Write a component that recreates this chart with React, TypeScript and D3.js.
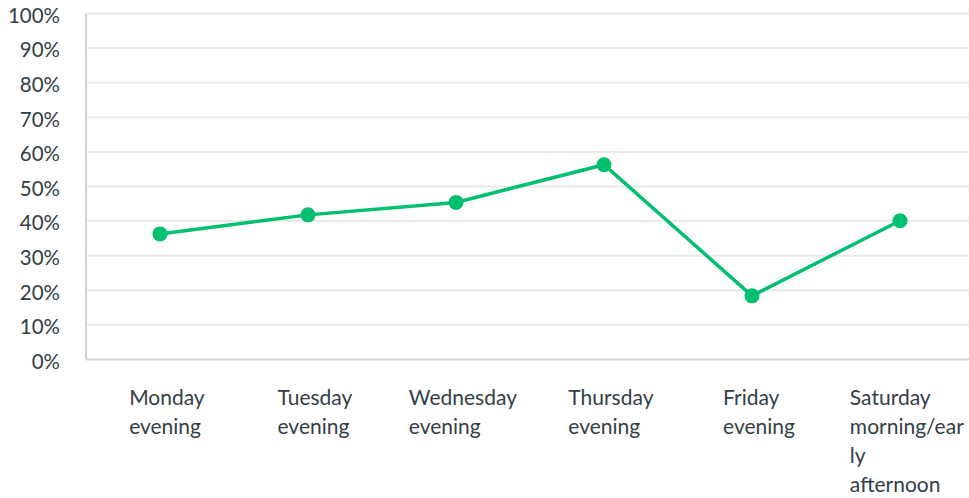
import React, { useEffect, useRef } from "react";
import * as d3 from "d3";

const categories: string[][] = [
  ["Monday", "evening"],
  ["Tuesday", "evening"],
  ["Wednesday", "evening"],
  ["Thursday", "evening"],
  ["Friday", "evening"],
  ["Saturday", "morning/ear", "ly", "afternoon"],
];
const values: number[] = [36.3, 41.8, 45.4, 56.3, 18.4, 40.1];
const yTicks: number[] = [0, 10, 20, 30, 40, 50, 60, 70, 80, 90, 100];

const W = 969;
const H = 498;
const FONT = "Lato, 'Open Sans', sans-serif";
const TEXT = "#333e48";
const GREEN = "#00bf6f";

export default function App() {
  const ref = useRef<SVGSVGElement | null>(null);
  useEffect(() => {
    const svg = d3.select(ref.current);
    svg.selectAll("*").remove();
    const x = d3.scaleBand<number>().domain(d3.range(categories.length)).range([86, 974]);
    const y = d3.scaleLinear().domain([0, 100]).range([359.5, 13.5]);

    // gridlines
    svg
      .append("g")
      .selectAll("line")
      .data(yTicks.filter((t) => t > 0))
      .join("line")
      .attr("x1", 86)
      .attr("x2", W)
      .attr("y1", (d) => y(d))
      .attr("y2", (d) => y(d))
      .attr("stroke", "#e9e9e9")
      .attr("stroke-width", 2);

    // axis lines
    svg.append("line").attr("x1", 86).attr("x2", 86).attr("y1", y(100)).attr("y2", y(0)).attr("stroke", "#d3d3d3").attr("stroke-width", 2);
    svg.append("line").attr("x1", 86).attr("x2", W).attr("y1", y(0)).attr("y2", y(0)).attr("stroke", "#d3d3d3").attr("stroke-width", 2);

    // y labels
    svg
      .append("g")
      .selectAll("text")
      .data(yTicks)
      .join("text")
      .attr("x", 60)
      .attr("y", (d) => y(d))
      .attr("dy", "0.45em")
      .attr("text-anchor", "end")
      .attr("font-family", FONT)
      .attr("font-size", 20.5)
      .attr("fill", TEXT)
      .text((d) => `${d}%`);

    // x labels
    const cx = (i: number) => (x(i) as number) + x.bandwidth() / 2;
    categories.forEach((lines, i) => {
      const g = svg.append("g");
      const t = g
        .append("text")
        .attr("font-family", FONT)
        .attr("font-size", 21)
        .attr("fill", TEXT);
      lines.forEach((ln, k) => {
        t.append("tspan").attr("x", 0).attr("y", 405 + k * 29).text(ln);
      });
      const bb = (t.node() as SVGTextElement).getBBox();
      g.attr("transform", `translate(${cx(i) + 7 - bb.width / 2},0)`);
    });

    // line
    const line = d3
      .line<number>()
      .x((_, i) => cx(i))
      .y((d) => y(d));
    svg.append("path").datum(values).attr("d", line).attr("fill", "none").attr("stroke", GREEN).attr("stroke-width", 3.5);
    svg
      .append("g")
      .selectAll("circle")
      .data(values)
      .join("circle")
      .attr("cx", (_, i) => cx(i))
      .attr("cy", (d) => y(d))
      .attr("r", 7.5)
      .attr("fill", GREEN);
  }, []);
  return (
    <svg ref={ref} width={W} height={H} style={{ position: "absolute", left: 0, top: 0, background: "#fff" }} />
  );
}
